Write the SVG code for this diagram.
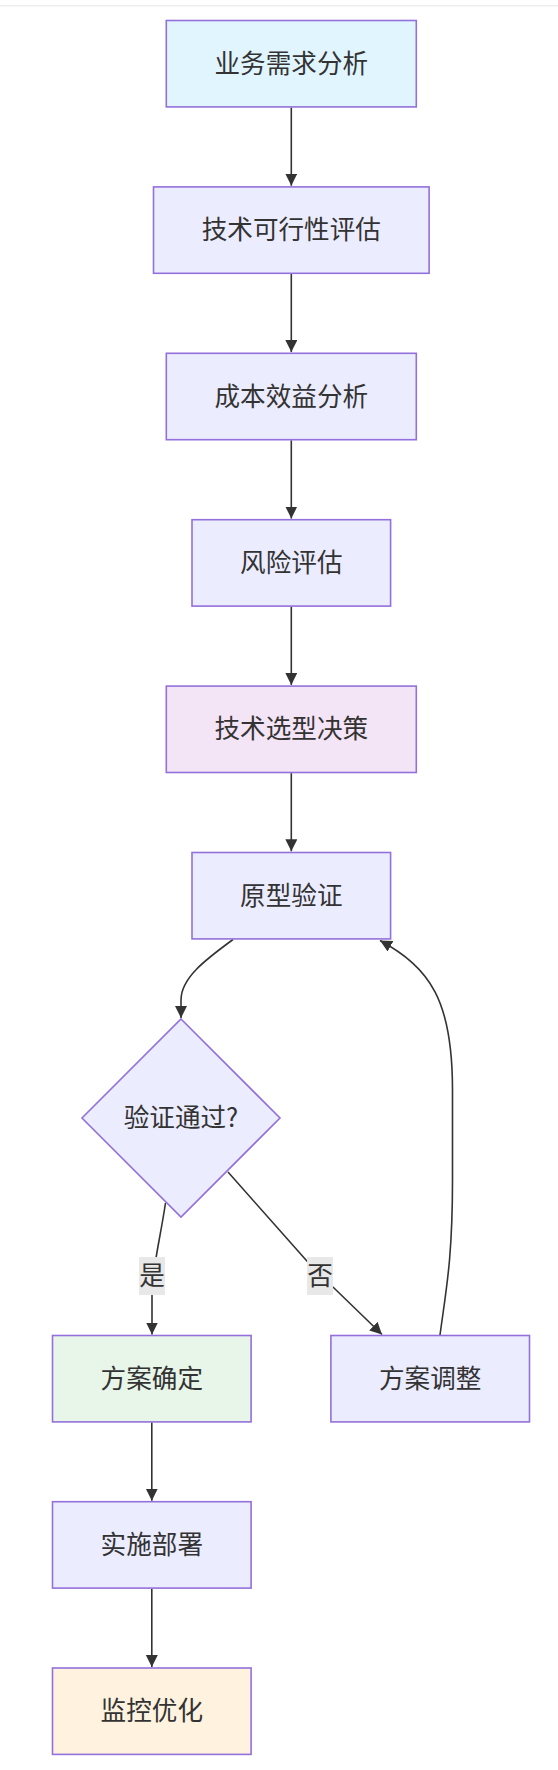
<svg xmlns="http://www.w3.org/2000/svg" width="558" height="1770" viewBox="0 0 558 1770">
<style>
.node{stroke:#9370DB;stroke-width:1.6}
.def{fill:#ECECFF}
.t{font-family:"Noto Sans CJK SC","Noto Sans",sans-serif;font-size:25.6px;fill:#333333;text-anchor:middle}
.e{fill:none;stroke:#333333;stroke-width:1.6}
.lb{fill:#e8e8e8}
</style>
<defs>
<marker id="arr" markerUnits="userSpaceOnUse" markerWidth="13" markerHeight="13" refX="12" refY="6" orient="auto">
<path d="M0,0 L12,6 L0,12 z" fill="#333333"/>
</marker>
</defs>
<rect x="0" y="5" width="558" height="1.5" fill="#eeeeee"/>
<g id="connectors">
<path class="e" d="M291.3,107.5 L291.3,185.7" marker-end="url(#arr)"/>
<path class="e" d="M291.3,273.9 L291.3,352.1" marker-end="url(#arr)"/>
<path class="e" d="M291.3,440.3 L291.3,518.5" marker-end="url(#arr)"/>
<path class="e" d="M291.3,606.7 L291.3,684.9" marker-end="url(#arr)"/>
<path class="e" d="M291.3,773.1 L291.3,851.3" marker-end="url(#arr)"/>
<path class="e" d="M233,939.5 C205,960 181,978 181,1000 L181,1018" marker-end="url(#arr)"/>
<path class="e" d="M165.5,1203 C160,1240 152,1270 152,1295 L152,1334.5" marker-end="url(#arr)"/>
<path class="e" d="M228,1172 L306,1260 Q320,1276 334,1288 L382,1334.5" marker-end="url(#arr)"/>
<path class="e" d="M440,1335 C446,1290 452.5,1260 452.5,1180 L452.5,1090 C452.5,1000 430,968 380,940.5" marker-end="url(#arr)"/>
<path class="e" d="M151.8,1422.5 L151.8,1500.7" marker-end="url(#arr)"/>
<path class="e" d="M151.8,1588.7 L151.8,1667" marker-end="url(#arr)"/>
<rect class="lb" x="139" y="1257" width="26" height="38"/>
<text class="t" x="152" y="1285">是</text>
<rect class="lb" x="307" y="1257" width="26" height="38"/>
<text class="t" x="320" y="1285">否</text>
</g>
<g id="n1"><rect class="node" x="166.3" y="20.5" width="250" height="86.4" fill="#e1f5fe"/><text class="t" x="291.3" y="72.7">业务需求分析</text></g>
<g id="n2"><rect class="node def" x="153.5" y="186.9" width="275.6" height="86.4"/><text class="t" x="291.3" y="239.1">技术可行性评估</text></g>
<g id="n3"><rect class="node def" x="166.3" y="353.3" width="250" height="86.4"/><text class="t" x="291.3" y="405.5">成本效益分析</text></g>
<g id="n4"><rect class="node def" x="192" y="519.7" width="198.6" height="86.4"/><text class="t" x="291.3" y="571.9">风险评估</text></g>
<g id="n5"><rect class="node" x="166.3" y="686.1" width="250" height="86.4" fill="#f3e5f5"/><text class="t" x="291.3" y="738.3">技术选型决策</text></g>
<g id="n6"><rect class="node def" x="192" y="852.5" width="198.6" height="86.4"/><text class="t" x="291.3" y="904.7">原型验证</text></g>
<g id="n7"><polygon class="node def" points="181,1019 280,1118 181,1217 82,1118"/><text class="t" x="181" y="1127">验证通过?</text></g>
<g id="n8"><rect class="node" x="52.5" y="1335.5" width="198.6" height="86.4" fill="#e8f5e9"/><text class="t" x="151.8" y="1387.7">方案确定</text></g>
<g id="n9"><rect class="node def" x="330.9" y="1335.5" width="198.6" height="86.4"/><text class="t" x="430.2" y="1387.7">方案调整</text></g>
<g id="n10"><rect class="node def" x="52.5" y="1501.7" width="198.6" height="86.4"/><text class="t" x="151.8" y="1553.9">实施部署</text></g>
<g id="n11"><rect class="node" x="52.5" y="1668" width="198.6" height="86.4" fill="#fff3e0"/><text class="t" x="151.8" y="1720.2">监控优化</text></g>
</svg>
